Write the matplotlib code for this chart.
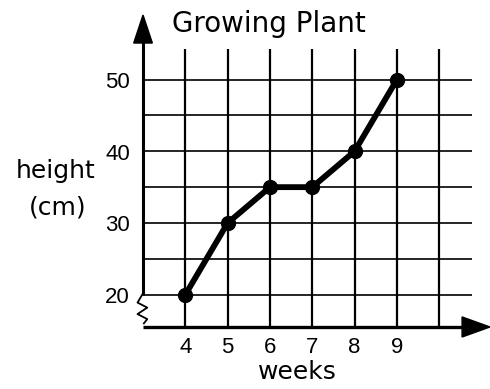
import matplotlib.pyplot as plt
from matplotlib.patches import Polygon

# weekly plant heights
weeks = [4, 5, 6, 7, 8, 9]
height_cm = [20, 30, 35, 35, 40, 50]
x_ticks = [4, 5, 6, 7, 8, 9]
y_ticks = [20, 30, 40, 50]
grid_x = [4, 5, 6, 7, 8, 9, 10]
grid_y = [20, 25, 30, 35, 40, 45, 50]

fig = plt.figure(figsize=(4.9, 3.89), dpi=100)
ax = fig.add_axes([0, 0, 1, 1])
x0, y0 = 3, 15.5
ax.set_xlim(-0.38, 11.2)
ax.set_ylim(6.85, 61.1)
ax.axis('off')

# grid
ax.vlines(grid_x, y0, 54.2, color='black', lw=1.6)
ax.hlines(grid_y, x0, 10.78, color='black', lw=1.2)

# y axis with break
ax.plot([x0, x0], [20, 56], color='black', lw=2.2, solid_capstyle='butt')
ax.plot([x0 - 0.02, x0 - 0.13, x0 + 0.1, x0 - 0.13, x0 + 0.1, x0 + 0.02],
        [20, 18.9, 18.2, 17.3, 16.6, 16.0], color='black', lw=1.3)
ax.add_patch(Polygon([[x0 - 0.22, 55.1], [x0 + 0.22, 55.1], [x0, 59.0]],
                     closed=True, color='black', clip_on=False))

# x axis
ax.plot([x0, 10.7], [y0, y0], color='black', lw=2.4, solid_capstyle='butt')
ax.add_patch(Polygon([[10.54, y0 + 1.4], [10.54, y0 - 1.4], [11.2, y0]],
                     closed=True, color='black', clip_on=False))

# data line
ax.plot(weeks, height_cm, color='black', lw=4.2, marker='o', ms=10,
        solid_capstyle='round', solid_joinstyle='round', zorder=5)

# tick labels
num_font = ['Liberation Sans Narrow', 'Liberation Sans']
for w in x_ticks:
    ax.text(w, 12.7, str(w), ha='center', va='center', fontsize=16,
            family=num_font, clip_on=False)
for v in y_ticks:
    ax.text(x0 - 0.6, v - 0.4, str(v), ha='center', va='center', fontsize=16,
            family=num_font, clip_on=False)

fig.text(269 / 490, 1 - 24 / 389, 'Growing Plant', ha='center', va='center',
         fontsize=20)
fig.text(56 / 490, 1 - 171 / 389, 'height', ha='center', va='center', fontsize=18)
fig.text(58 / 490, 1 - 208 / 389, '(cm)', ha='center', va='center', fontsize=18)
fig.text(297 / 490, 1 - 372 / 389, 'weeks', ha='center', va='center', fontsize=18)

fig.savefig('out.png', dpi=100)
